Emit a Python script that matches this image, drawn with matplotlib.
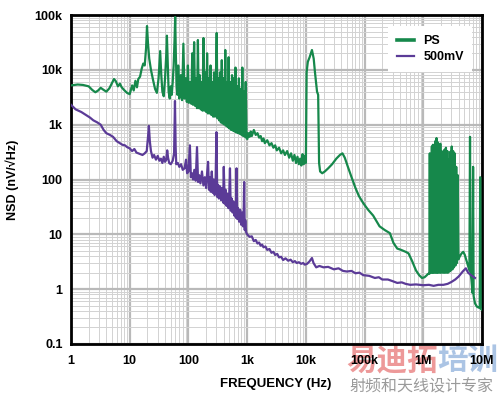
import matplotlib
matplotlib.use("Agg")
import matplotlib.pyplot as plt
from matplotlib.ticker import FixedLocator, LogLocator, NullFormatter, FixedFormatter

# ---------------- data ----------------
ps_freq = [
    1, 1.3, 1.6, 2, 2.3, 2.6, 2.9, 3.2, 3.6, 4, 4.5, 5, 5.4, 5.8, 6.3, 6.8, 7.3, 8, 9, 10,
    11, 11.7, 12.5, 13.3, 14, 15, 16, 17, 18, 19, 19.7, 20.5, 21.5, 23, 25, 27, 29, 31, 33, 34.5,
    36, 38, 40, 42, 43, 44.5, 46, 48, 50, 52, 54, 56, 58, 59.5, 61, 63, 65,
    67, 70, 74, 78, 82, 86, 90, 94, 98, 102, 107, 112, 116, 120, 125, 130, 135, 140, 145, 150,
    156, 162, 168, 174, 180, 187, 194, 201, 208, 215, 222, 230, 238, 246, 255, 264, 273, 283,
    293, 303, 313, 323, 334, 345, 357, 370, 383, 396, 410, 424, 438, 453, 468, 484, 500, 517,
    535, 553, 572, 592, 612, 633, 655, 677, 700, 724, 749, 775, 801, 828, 856, 885, 915, 946,
    978, 1010,
    1050, 1100, 1150, 1200, 1300, 1400, 1500, 1600, 1700, 1800, 1900, 2000, 2200, 2400, 2600,
    2800, 3000, 3200, 3500, 3800, 4100, 4400, 4800, 5200, 5600, 6000, 6400, 6800, 7200, 7600,
    8000, 8400, 8800, 9200, 9600, 10000,
    10300, 10800, 11600, 12700, 13600, 14300, 15500, 16200, 16800, 17500, 19000, 21000, 24000,
    28000, 33000, 38000, 42000, 46000, 52000, 60000, 70000, 80000, 95000, 115000, 140000,
    180000, 220000, 270000, 310000, 360000, 420000, 500000, 560000, 650000, 750000, 850000,
    950000, 1050000, 1150000,
    1.20e6, 1.27e6, 1.29e6, 1.31e6, 1.34e6, 1.37e6, 1.40e6, 1.43e6, 1.46e6, 1.49e6, 1.52e6,
    1.56e6, 1.60e6, 1.64e6, 1.68e6, 1.72e6, 1.76e6, 1.80e6, 1.85e6, 1.90e6, 1.95e6, 2.00e6,
    2.06e6, 2.12e6, 2.18e6, 2.24e6, 2.30e6, 2.36e6, 2.43e6, 2.50e6, 2.57e6, 2.64e6, 2.72e6,
    2.80e6, 2.88e6, 2.96e6, 3.05e6, 3.14e6, 3.23e6, 3.33e6, 3.43e6, 3.53e6, 3.64e6, 3.75e6,
    3.86e6, 3.97e6, 4.2e6, 4.5e6, 4.8e6, 5.1e6, 5.5e6, 5.9e6, 6.1e6, 6.25e6, 6.4e6, 6.6e6,
    6.9e6, 7.05e6, 7.2e6, 7.6e6, 8.2e6, 8.8e6, 9.15e6, 9.3e6, 9.5e6, 10e6,
]
ps_nsd = [
    5200, 5400, 5300, 5000, 4300, 3900, 4200, 4700, 4300, 4000, 4600, 5800, 6800, 6200, 5000,
    5600, 4800, 4300, 3800, 3600,
    5200, 4200, 6300, 4800, 6800, 7500, 10500, 13000, 12000, 25000, 63000, 30000, 16000, 10000,
    6500, 4500, 3800, 7000, 22000, 8000,
    4000, 3300, 7000, 20000, 42000, 12000, 4000, 3000, 5000, 3500, 6000, 12000, 35000, 92000,
    20000, 5000, 3500,
    12000, 3000, 8000, 2800, 30000, 3000, 7000, 2600, 12000, 2500, 6000, 2400, 20000, 2300,
    32000, 2200, 7000, 2000, 35000, 2000,
    8000, 1900, 6000, 1800, 38000, 1800, 9000, 1700, 20000, 1600, 7000, 1600, 12000, 1500,
    6000, 1400, 9000, 1400,
    6000, 47000, 1300, 7000, 1200, 9000, 1100, 15000, 1050, 7000, 1000, 23000, 950, 6000, 900,
    17000, 850, 6000,
    800, 8000, 780, 7000, 750, 11000, 720, 5000, 700, 7000, 680, 4500, 650, 11000, 620, 4000,
    600, 6000,
    560, 550,
    700, 600, 750, 620, 800, 650, 700, 580, 620, 500, 560, 460, 520, 420, 460,
    380, 420, 340, 380, 300, 340, 280, 330, 250, 300, 220, 280, 200, 260, 190,
    240, 180, 290, 190, 270, 200,
    9000, 14000, 17000, 23000, 16000, 9000, 4000, 3500, 200, 140, 130, 140, 160,
    190, 240, 280, 300, 250, 170, 110, 70, 50, 37, 28, 22,
    14, 12, 10.5, 7, 5.5, 5.2, 4.8, 4.5, 3.2, 2.2, 1.8,
    1.6, 1.65, 1.8,
    1.9, 1.9, 300, 2, 280, 2, 400, 2, 430, 2, 350,
    2, 500, 2, 570, 2, 480, 2, 420, 2, 450, 2,
    330, 2, 300, 2, 350, 2, 380, 2, 330, 2, 230,
    2.1, 320, 2.2, 400, 2.3, 330, 2.5, 300, 2.7, 170, 3,
    120, 3.5, 4, 4.5, 4.8, 4.2, 3.2, 2.5, 2.2, 600, 1.9, 1.5,
    0.85, 170, 0.75, 0.55, 0.48, 0.46, 0.46, 110, 0.44, 0.42,
]

mv_freq = [
    1, 1.2, 1.5, 1.8, 2.1, 2.4, 2.8, 3.2, 3.6, 4, 4.6, 5.2, 6, 6.8, 7.5, 8.3, 9, 10, 11, 12,
    13, 14, 15, 16.5, 18, 19.5, 20.5, 21.2, 22, 23, 24.5, 26, 28, 30, 32, 34, 36, 38, 40, 42,
    43.5, 45, 47, 50, 54, 57, 59, 60.5, 62, 66, 70, 75, 80, 86, 91, 95, 100, 106, 110, 115,
    120, 126, 133, 140, 146, 152, 160, 170, 180, 190, 200, 208, 216, 224, 232, 240, 250, 260,
    270, 280, 290, 300, 310, 320, 330, 345, 360, 375, 390, 400, 415, 430, 445, 460, 480, 495,
    510, 525, 545, 565, 585, 605, 625, 645, 660, 680, 700, 730, 760, 790, 820, 850, 870, 890,
    910, 930, 960, 1000,
    1100, 1200, 1300, 1400, 1500, 1600, 1700, 1800, 1900, 2050, 2200, 2400, 2600, 2800, 3000,
    3250, 3500, 3800, 4100, 4500, 5000, 5500, 6000, 6500, 7000, 7600, 8300, 9000, 9600,
    10500, 11500, 12700, 13500, 15000, 17000, 20000, 24000, 30000, 36000, 43000, 50000,
    60000, 70000, 82000, 95000, 120000, 150000, 175000, 200000, 250000, 300000, 360000,
    430000, 500000, 600000, 750000, 1e6, 1.25e6, 1.5e6, 1.8e6, 2.2e6, 2.6e6, 3e6, 3.5e6,
    4e6, 4.7e6, 5.3e6, 5.8e6, 6.5e6, 7.6e6,
]
mv_nsd = [
    2300, 1900, 1700, 1500, 1350, 1200, 1100, 1000, 800, 700, 650, 600, 500, 460, 430, 420,
    390, 370, 330, 360,
    310, 300, 290, 280, 300, 330, 600, 950, 500, 330, 250, 280, 230, 270, 220, 240, 200, 260,
    210, 230,
    340, 250, 200, 190, 220, 300, 2700, 400, 190, 200, 170, 190, 150, 160, 230, 130, 140, 420,
    110, 130,
    100, 150, 95, 390, 90, 120, 85, 140, 78, 110, 70, 130, 210, 65, 110, 60, 140, 57,
    100, 52, 90, 730, 48, 80, 45, 75, 42, 70, 38, 170, 36, 65, 33, 55, 30, 50,
    160, 27, 45, 25, 40, 22, 35, 20, 160, 19, 30, 17, 28, 15, 25, 14, 22, 90,
    12, 18, 11, 10,
    9, 9.2, 7.5, 7.9, 6.8, 7.1, 6.2, 6.5, 5.8, 6.0, 5.2, 5.4, 4.6, 4.8, 4.2,
    4.4, 3.8, 3.9, 3.4, 3.65, 3.3, 3.45, 3.1, 3.25, 3.0, 3.1, 2.9, 3.0, 2.8,
    2.9, 3.2, 3.7, 3.0, 2.5, 2.65, 2.5, 2.55, 2.3, 2.4, 2.15, 2.1,
    2.15, 1.95, 2.0, 1.8, 1.75, 1.6, 1.65, 1.5, 1.5, 1.4, 1.3,
    1.33, 1.25, 1.2, 1.22, 1.18, 1.2, 1.15, 1.2, 1.2, 1.25, 1.35, 1.5,
    1.7, 2.1, 2.4, 2.0, 1.8, 1.6,
]

x_ticks = [1, 10, 100, 1e3, 1e4, 1e5, 1e6, 1e7]
x_labels = ["1", "10", "100", "1k", "10k", "100k", "1M", "10M"]
y_ticks = [0.1, 1, 10, 100, 1e3, 1e4, 1e5]
y_labels = ["0.1", "1", "10", "100", "1k", "10k", "100k"]
series_names = ["PS", "500mV"]

# ---------------- figure ----------------
GREEN = "#16884b"
PURPLE = "#5b3b97"
FONT = "Liberation Sans"

fig = plt.figure(figsize=(5.0, 3.97), dpi=100)
ax = fig.add_axes([71 / 500, 1 - 344 / 397, 411 / 500, 329 / 397])

ax.set_xscale("log")
ax.set_yscale("log")
ax.set_xlim(1, 1e7)
ax.set_ylim(0.1, 1e5)

ax.xaxis.set_major_locator(FixedLocator(x_ticks))
ax.xaxis.set_major_formatter(FixedFormatter(x_labels))
ax.yaxis.set_major_locator(FixedLocator(y_ticks))
ax.yaxis.set_major_formatter(FixedFormatter(y_labels))
ax.xaxis.set_minor_locator(LogLocator(base=10, subs=range(2, 10), numticks=20))
ax.yaxis.set_minor_locator(LogLocator(base=10, subs=range(2, 10), numticks=20))
ax.xaxis.set_minor_formatter(NullFormatter())
ax.yaxis.set_minor_formatter(NullFormatter())

ax.grid(which="major", color="#b9b9b9", lw=1.6, zorder=0)
ax.grid(which="minor", color="#d2d2d2", lw=0.7, zorder=0)
ax.set_axisbelow(True)

ax.tick_params(which="both", length=0)
ax.tick_params(axis="x", pad=8)
ax.tick_params(axis="y", pad=6)
for lab in ax.get_xticklabels() + ax.get_yticklabels():
    lab.set_fontfamily(FONT)
    lab.set_fontweight("bold")
    lab.set_fontsize(9)

for sp in ax.spines.values():
    sp.set_linewidth(2.0)
    sp.set_color("black")

l_ps, = ax.plot(ps_freq, ps_nsd, color=GREEN, lw=1.6, zorder=3)
l_mv, = ax.plot(mv_freq, mv_nsd, color=PURPLE, lw=1.6, zorder=4)

h_ps = plt.Line2D([], [], color=GREEN, lw=2.6)
h_mv = plt.Line2D([], [], color=PURPLE, lw=1.6)
leg = ax.legend([h_ps, h_mv], series_names, loc="upper right",
                bbox_to_anchor=(0.992, 0.985), frameon=True, fancybox=False,
                facecolor="white", edgecolor="none", framealpha=1.0,
                handlelength=1.4, handletextpad=0.7, labelspacing=0.35,
                borderpad=0.7, prop={"family": FONT, "weight": "bold", "size": 9})
leg.set_zorder(5)

fig.text(12 / 500, 1 - 180 / 397, "NSD (nV/√Hz)", rotation=90, ha="center", va="center",
         family=[FONT, "DejaVu Sans"], fontweight="bold", fontsize=9)
fig.text(276 / 500, 1 - 384 / 397, "FREQUENCY (Hz)", ha="center", va="center",
         family=FONT, fontweight="bold", fontsize=9.5)

# watermark
fig.text(346 / 500, 1 - 361 / 397, "易迪拓", ha="left", va="center", color="#e77777",
         alpha=0.75, family=["Noto Sans CJK SC"], fontweight="bold", fontsize=22, zorder=-1)
fig.text(437 / 500, 1 - 361 / 397, "培训", ha="left", va="center", color="#8fb0dc",
         alpha=0.75, family=["Noto Sans CJK SC"], fontweight="bold", fontsize=22, zorder=-1)
fig.text(421 / 500, 1 - 387 / 397, "射频和天线设计专家", ha="center", va="center",
         color="#9a9a9a", family=["Noto Sans CJK SC"], fontsize=11.5, zorder=-1)

fig.savefig("out.png", dpi=100)
